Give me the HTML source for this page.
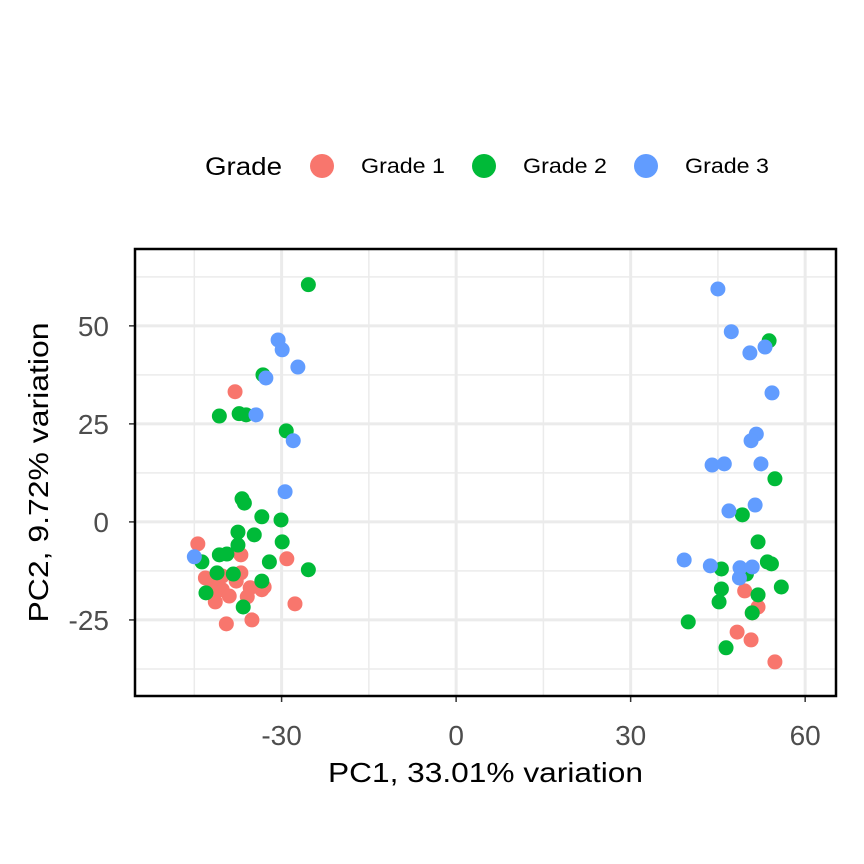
<!DOCTYPE html>
<html><head><meta charset="utf-8"><style>body{margin:0;background:#fff}svg{display:block;font-family:"Liberation Sans",Arial,sans-serif}</style></head>
<body>
<svg id="c" width="864" height="864"></svg>
<script>
const xTicks=[-30,0,30,60];
const yTicks=[-25,0,25,50];
const xMinor=[-45,-15,15,45];
const yMinor=[-37.5,-12.5,12.5,37.5,62.5];
const groups=["Grade 1","Grade 2","Grade 3"];
const colors=["#F8766D","#00BA38","#619CFF"];
const g1x=[-38.0,-44.4,-37.0,-29.1,-43.1,-41.9,-40.2,-37.8,-40.2,-33.0,-37.0,-42.1,-39.0,-35.4,-35.9,-41.4,-33.4,-27.7,-39.5,-35.1,49.6,51.9,50.9,48.3,50.7,54.8];
const g1y=[33.2,-5.6,-8.4,-9.4,-14.3,-15.6,-13.8,-15.1,-17.3,-16.6,-13.0,-17.3,-18.9,-16.8,-19.1,-20.4,-17.3,-20.9,-26.0,-25.0,-17.6,-21.7,-23.2,-28.1,-30.1,-35.7];
const g2x=[-25.4,-33.2,-40.7,-37.3,-36.1,-29.2,-36.8,-36.4,-33.4,-30.1,-37.5,-34.7,-29.9,-37.5,-43.7,-40.7,-39.4,-32.1,-25.4,-41.1,-38.3,-33.4,-43.0,-36.6,53.8,54.8,49.2,51.9,45.6,53.5,54.2,49.9,51.9,55.9,45.6,45.2,50.9,39.9,46.4];
const g2y=[60.5,37.5,27.0,27.6,27.3,23.2,5.9,4.8,1.3,0.5,-2.6,-3.3,-5.1,-5.9,-10.2,-8.4,-8.2,-10.2,-12.2,-13.0,-13.3,-15.1,-18.1,-21.7,46.2,11.0,1.8,-5.1,-12.0,-10.2,-10.7,-13.3,-18.6,-16.6,-17.1,-20.4,-23.2,-25.5,-32.1];
const g3x=[-30.6,-29.9,-27.2,-32.7,-34.4,-28.0,-29.4,-45.0,45.0,47.3,53.1,50.5,54.3,51.6,50.7,44.0,46.1,52.4,46.9,51.4,39.2,43.7,48.8,50.9,48.7];
const g3y=[46.4,43.9,39.5,36.7,27.3,20.7,7.7,-8.9,59.4,48.5,44.6,43.1,32.9,22.4,20.7,14.5,14.8,14.8,2.8,4.3,-9.7,-11.2,-11.7,-11.5,-14.3];
const L=135,R=836,T=249,B=696,xmin=-55.2,xmax=65.3,ymin=-44.4,ymax=69.6;
const sx=v=>L+(v-xmin)/(xmax-xmin)*(R-L), sy=v=>B-(v-ymin)/(ymax-ymin)*(B-T);
const svg=document.getElementById('c'),NS='http://www.w3.org/2000/svg';
function mk(t,a,txt){const e=document.createElementNS(NS,t);for(const k in a)e.setAttribute(k,a[k]);if(txt!==undefined)e.textContent=txt;svg.appendChild(e);return e;}
xMinor.forEach(v=>{const e=mk('line',{x1:sx(v),x2:sx(v),y1:T,y2:B,stroke:'#ebebeb','stroke-width':1.5});});
yMinor.forEach(v=>{const e=mk('line',{x1:L,x2:R,y1:sy(v),y2:sy(v),stroke:'#ebebeb','stroke-width':1.5});});
xTicks.forEach(v=>{const e=mk('line',{x1:sx(v),x2:sx(v),y1:T,y2:B,stroke:'#ebebeb','stroke-width':3});
 const k=mk('line',{x1:sx(v),x2:sx(v),y1:B,y2:B+6,stroke:'#333','stroke-width':1.5});
 const t=mk('text',{x:sx(v),y:745,'text-anchor':'middle','font-size':28,fill:'#4d4d4d'},v);});
yTicks.forEach(v=>{const e=mk('line',{x1:L,x2:R,y1:sy(v),y2:sy(v),stroke:'#ebebeb','stroke-width':3});
 const k=mk('line',{x1:L-6,x2:L,y1:sy(v),y2:sy(v),stroke:'#333','stroke-width':1.5});
 const t=mk('text',{x:L-26,y:sy(v)+10,'text-anchor':'end','font-size':28,fill:'#4d4d4d'},v);});
[[g1x,g1y],[g2x,g2y],[g3x,g3y]].forEach((s,gi)=>{s[0].forEach((x,i)=>{const c=mk('circle',{cx:sx(x),cy:sy(s[1][i]),r:7.5,fill:colors[gi]});});});
const f=mk('rect',{x:L,y:T,width:R-L,height:B-T,fill:'none',stroke:'#000','stroke-width':2.5});
const xt=mk('text',{x:(L+R)/2,y:782,'text-anchor':'middle','font-size':28,textLength:315,lengthAdjust:'spacingAndGlyphs'},'PC1, 33.01% variation');
const yt=mk('text',{x:0,y:0,'text-anchor':'middle','font-size':28,textLength:300,lengthAdjust:'spacingAndGlyphs',transform:'translate(48,'+((T+B)/2)+') rotate(-90)'},'PC2, 9.72% variation');
const lt=mk('text',{x:205,y:175,'font-size':25,textLength:77,lengthAdjust:'spacingAndGlyphs'},'Grade');
const kx=[322,484,646];
groups.forEach((g,i)=>{const c=mk('circle',{cx:kx[i],cy:166,r:12,fill:colors[i]});
 const t=mk('text',{x:kx[i]+39,y:173,'font-size':21,textLength:84,lengthAdjust:'spacingAndGlyphs'},g);});
</script>
</body></html>
